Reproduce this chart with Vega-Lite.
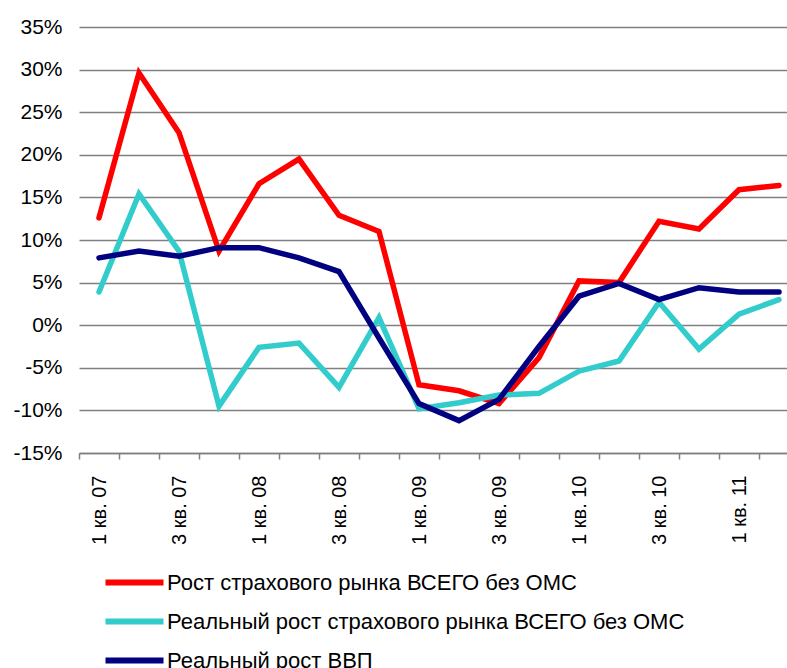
{
  "$schema": "https://vega.github.io/schema/vega-lite/v6.json",
  "width": 720,
  "height": 426,
  "autosize": {"type": "none"},
  "padding": {"left": 79, "top": 27, "right": 0, "bottom": 215},
  "background": "white",
  "config": {
    "font": "Liberation Sans",
    "view": {"stroke": null}
  },
  "data": {
    "values": [
      {"s": "Рост страхового рынка ВСЕГО без ОМС", "q": "1 кв. 07", "v": 12.6},
      {"s": "Рост страхового рынка ВСЕГО без ОМС", "q": "2 кв. 07", "v": 29.6},
      {"s": "Рост страхового рынка ВСЕГО без ОМС", "q": "3 кв. 07", "v": 22.6},
      {"s": "Рост страхового рынка ВСЕГО без ОМС", "q": "4 кв. 07", "v": 8.7},
      {"s": "Рост страхового рынка ВСЕГО без ОМС", "q": "1 кв. 08", "v": 16.6},
      {"s": "Рост страхового рынка ВСЕГО без ОМС", "q": "2 кв. 08", "v": 19.5},
      {"s": "Рост страхового рынка ВСЕГО без ОМС", "q": "3 кв. 08", "v": 12.9},
      {"s": "Рост страхового рынка ВСЕГО без ОМС", "q": "4 кв. 08", "v": 11.0},
      {"s": "Рост страхового рынка ВСЕГО без ОМС", "q": "1 кв. 09", "v": -7.0},
      {"s": "Рост страхового рынка ВСЕГО без ОМС", "q": "2 кв. 09", "v": -7.7},
      {"s": "Рост страхового рынка ВСЕГО без ОМС", "q": "3 кв. 09", "v": -9.2},
      {"s": "Рост страхового рынка ВСЕГО без ОМС", "q": "4 кв. 09", "v": -3.8},
      {"s": "Рост страхового рынка ВСЕГО без ОМС", "q": "1 кв. 10", "v": 5.2},
      {"s": "Рост страхового рынка ВСЕГО без ОМС", "q": "2 кв. 10", "v": 5.0},
      {"s": "Рост страхового рынка ВСЕГО без ОМС", "q": "3 кв. 10", "v": 12.2},
      {"s": "Рост страхового рынка ВСЕГО без ОМС", "q": "4 кв. 10", "v": 11.3},
      {"s": "Рост страхового рынка ВСЕГО без ОМС", "q": "1 кв. 11", "v": 15.9},
      {"s": "Рост страхового рынка ВСЕГО без ОМС", "q": "2 кв. 11", "v": 16.4},
      {"s": "Реальный рост страхового рынка ВСЕГО без ОМС", "q": "1 кв. 07", "v": 3.9},
      {"s": "Реальный рост страхового рынка ВСЕГО без ОМС", "q": "2 кв. 07", "v": 15.4},
      {"s": "Реальный рост страхового рынка ВСЕГО без ОМС", "q": "3 кв. 07", "v": 8.7},
      {"s": "Реальный рост страхового рынка ВСЕГО без ОМС", "q": "4 кв. 07", "v": -9.5},
      {"s": "Реальный рост страхового рынка ВСЕГО без ОМС", "q": "1 кв. 08", "v": -2.6},
      {"s": "Реальный рост страхового рынка ВСЕГО без ОМС", "q": "2 кв. 08", "v": -2.1},
      {"s": "Реальный рост страхового рынка ВСЕГО без ОМС", "q": "3 кв. 08", "v": -7.3},
      {"s": "Реальный рост страхового рынка ВСЕГО без ОМС", "q": "4 кв. 08", "v": 0.9},
      {"s": "Реальный рост страхового рынка ВСЕГО без ОМС", "q": "1 кв. 09", "v": -9.8},
      {"s": "Реальный рост страхового рынка ВСЕГО без ОМС", "q": "2 кв. 09", "v": -9.1},
      {"s": "Реальный рост страхового рынка ВСЕГО без ОМС", "q": "3 кв. 09", "v": -8.2},
      {"s": "Реальный рост страхового рынка ВСЕГО без ОМС", "q": "4 кв. 09", "v": -8.0},
      {"s": "Реальный рост страхового рынка ВСЕГО без ОМС", "q": "1 кв. 10", "v": -5.4},
      {"s": "Реальный рост страхового рынка ВСЕГО без ОМС", "q": "2 кв. 10", "v": -4.2},
      {"s": "Реальный рост страхового рынка ВСЕГО без ОМС", "q": "3 кв. 10", "v": 2.7},
      {"s": "Реальный рост страхового рынка ВСЕГО без ОМС", "q": "4 кв. 10", "v": -2.8},
      {"s": "Реальный рост страхового рынка ВСЕГО без ОМС", "q": "1 кв. 11", "v": 1.3},
      {"s": "Реальный рост страхового рынка ВСЕГО без ОМС", "q": "2 кв. 11", "v": 3.0},
      {"s": "Реальный рост ВВП", "q": "1 кв. 07", "v": 7.9},
      {"s": "Реальный рост ВВП", "q": "2 кв. 07", "v": 8.7},
      {"s": "Реальный рост ВВП", "q": "3 кв. 07", "v": 8.1},
      {"s": "Реальный рост ВВП", "q": "4 кв. 07", "v": 9.1},
      {"s": "Реальный рост ВВП", "q": "1 кв. 08", "v": 9.1},
      {"s": "Реальный рост ВВП", "q": "2 кв. 08", "v": 7.9},
      {"s": "Реальный рост ВВП", "q": "3 кв. 08", "v": 6.3},
      {"s": "Реальный рост ВВП", "q": "4 кв. 08", "v": -1.5},
      {"s": "Реальный рост ВВП", "q": "1 кв. 09", "v": -9.2},
      {"s": "Реальный рост ВВП", "q": "2 кв. 09", "v": -11.2},
      {"s": "Реальный рост ВВП", "q": "3 кв. 09", "v": -8.7},
      {"s": "Реальный рост ВВП", "q": "4 кв. 09", "v": -2.5},
      {"s": "Реальный рост ВВП", "q": "1 кв. 10", "v": 3.4},
      {"s": "Реальный рост ВВП", "q": "2 кв. 10", "v": 4.9},
      {"s": "Реальный рост ВВП", "q": "3 кв. 10", "v": 3.0},
      {"s": "Реальный рост ВВП", "q": "4 кв. 10", "v": 4.4},
      {"s": "Реальный рост ВВП", "q": "1 кв. 11", "v": 3.9},
      {"s": "Реальный рост ВВП", "q": "2 кв. 11", "v": 3.9}
    ]
  },
  "mark": {"type": "line", "strokeWidth": 5.5, "strokeCap": "round"},
  "encoding": {
    "x": {
      "field": "q",
      "type": "ordinal",
      "sort": null,
      "scale": {"type": "band", "paddingInner": 0, "paddingOuter": 0},
      "axis": {
        "title": null,
        "tickBand": "extent",
        "grid": false,
        "domainColor": "#808080",
        "domainWidth": 1.5,
        "tickColor": "#808080",
        "tickWidth": 1.5,
        "tickSize": 6,
        "labelAngle": 270,
        "labelPadding": 16,
        "labelFontSize": 20,
        "labelColor": "black",
        "labelExpr": "(substring(datum.label,0,1) == '1' || substring(datum.label,0,1) == '3') ? datum.label : ''"
      }
    },
    "y": {
      "field": "v",
      "type": "quantitative",
      "scale": {"domain": [-15, 35], "nice": false, "zero": false},
      "axis": {
        "title": null,
        "values": [-15, -10, -5, 0, 5, 10, 15, 20, 25, 30, 35],
        "domain": false,
        "ticks": false,
        "grid": true,
        "gridColor": "#808080",
        "gridWidth": 1.5,
        "gridOpacity": 1,
        "labelPadding": 17,
        "labelFontSize": 21,
        "labelColor": "black",
        "labelExpr": "datum.value + '%'"
      }
    },
    "color": {
      "field": "s",
      "type": "nominal",
      "scale": {
        "domain": ["Рост страхового рынка ВСЕГО без ОМС", "Реальный рост страхового рынка ВСЕГО без ОМС", "Реальный рост ВВП"],
        "range": ["#FF0000", "#33CCCC", "#000080"]
      },
      "legend": {
        "title": null,
        "orient": "none",
        "legendX": 38,
        "legendY": 538,
        "padding": 0,
        "direction": "vertical",
        "symbolType": "M-2,0H2",
        "symbolSize": 841,
        "symbolStrokeWidth": 6,
        "labelFontSize": 22,
        "labelColor": "black",
        "labelOffset": 15,
        "labelLimit": 700,
        "rowPadding": 9
      }
    }
  }
}
